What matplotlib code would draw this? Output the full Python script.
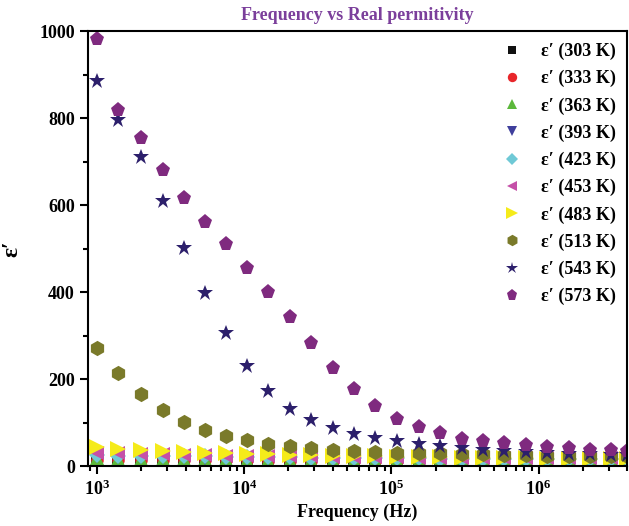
import matplotlib.pyplot as plt
from matplotlib.ticker import FixedLocator, LogLocator, NullFormatter, MultipleLocator

plt.rcParams['font.family'] = ['Liberation Serif', 'DejaVu Serif']
plt.rcParams['font.weight'] = 'bold'
plt.rcParams['mathtext.default'] = 'regular'

# frequencies (Hz)
freq = [1.0e3, 1.4e3, 2.0e3, 2.8e3, 3.9e3, 5.4e3, 7.5e3, 1.05e4, 1.46e4, 2.05e4,
        2.86e4, 4.0e4, 5.6e4, 7.8e4, 1.09e5, 1.53e5, 2.14e5, 3.0e5, 4.2e5, 5.8e5,
        8.2e5, 1.14e6, 1.6e6, 2.24e6, 3.1e6, 4.0e6]

e_303 = [10, 10, 10, 9, 9, 9, 9, 9, 9, 9, 9, 9, 9, 9, 9, 9, 9, 9, 9, 9, 9, 9, 9, 9, 9, 9]
e_333 = [14, 14, 13, 13, 13, 13, 13, 13, 12, 12, 12, 12, 12, 12, 12, 12, 12, 12, 12, 12, 12, 12, 12, 12, 12, 12]
e_363 = [18, 17, 17, 16, 16, 16, 16, 15, 15, 15, 15, 15, 15, 14, 14, 14, 14, 14, 14, 14, 14, 14, 14, 14, 14, 14]
e_393 = [22, 21, 21, 20, 20, 19, 19, 18, 18, 18, 17, 17, 17, 17, 16, 16, 16, 16, 16, 16, 15, 15, 15, 15, 15, 15]
e_423 = [25, 24, 23, 23, 22, 22, 21, 21, 20, 20, 19, 19, 19, 18, 18, 18, 17, 17, 17, 17, 17, 16, 16, 16, 16, 16]
e_453 = [30, 29, 28, 27, 26, 25, 24, 24, 23, 22, 22, 21, 21, 20, 20, 19, 19, 19, 18, 18, 18, 18, 18, 18, 18, 18]
e_483 = [43, 40, 37, 35, 33, 31, 30, 28, 27, 26, 25, 24, 23, 22, 21, 20, 20, 19, 19, 18, 18, 17, 17, 16, 16, 16]
e_513 = [272, 213, 165, 128, 102, 83, 68, 59, 50, 45, 41, 38, 35, 33, 31, 30, 29, 28, 27, 26, 25, 24, 23, 23, 22, 22]
e_543 = [885, 795, 710, 609, 501, 398, 306, 230, 172, 131, 106, 87, 73, 64, 57, 51, 46, 41, 37, 34, 32, 30, 28, 27, 26, 25]
e_573 = [982, 818, 755, 680, 616, 561, 510, 455, 400, 343, 283, 225, 177, 138, 108, 90, 76, 62, 57, 53, 48, 44, 41, 38, 37, 34]

temps = ['303', '333', '363', '393', '423', '453', '483', '513', '543', '573']
series = [e_303, e_333, e_363, e_393, e_423, e_453, e_483, e_513, e_543, e_573]
colors = ['#111111', '#e8262a', '#5cb83c', '#3f3f9c', '#6fc9d6', '#c550a8',
          '#f5eb1a', '#7a7a2a', '#2c1f6b', '#7f2a7f']
markers = ['s', 'o', '^', 'v', 'D', '<', '>', 'h', '*', 'p']
sizes = [8, 9, 10, 10, 8, 10, 11, 11, 12, 11]

fig = plt.figure(figsize=(6.29, 5.26), dpi=100)
ax = fig.add_axes([0.14, 0.114, 0.857, 0.827])

for t, y, c, m, s in zip(temps, series, colors, markers, sizes):
    ax.plot(freq, y, linestyle='none', marker=m, color=c, markersize=s,
            markeredgewidth=0, label="ε′ (%s K)" % t)

ax.set_xscale('log')
ax.set_xlim(870, 4.0e6)
ax.set_ylim(0, 1000)
ax.yaxis.set_major_locator(MultipleLocator(200))
ax.yaxis.set_minor_locator(MultipleLocator(100))
ax.xaxis.set_major_locator(FixedLocator([1e3, 1e4, 1e5, 1e6]))
ax.xaxis.set_minor_locator(LogLocator(base=10, subs=range(2, 10)))
ax.xaxis.set_minor_formatter(NullFormatter())

ax.tick_params(which='both', direction='out', top=False, right=False, width=1.5)
ax.tick_params(which='major', length=6, labelsize=13)
ax.tick_params(which='minor', length=3.5)
for sp in ax.spines.values():
    sp.set_linewidth(1.5)
for lab in ax.get_xticklabels() + ax.get_yticklabels():
    lab.set_fontweight('bold')

ax.set_xlabel('Frequency (Hz)', fontsize=13, fontweight='bold', labelpad=4)
ax.set_ylabel('ε′', fontsize=17, fontweight='bold', labelpad=12)
ax.set_title('Frequency vs Real permitivity', fontsize=13, fontweight='bold',
             color='#7b3f9b', pad=8)

leg = ax.legend(loc='upper right', frameon=False, fontsize=13, markerscale=0.75,
                handletextpad=0.8, labelspacing=0.55, borderaxespad=0.25,
                handlelength=1.6)
for txt in leg.get_texts():
    txt.set_fontweight('bold')

fig.savefig('out.png', dpi=100)
